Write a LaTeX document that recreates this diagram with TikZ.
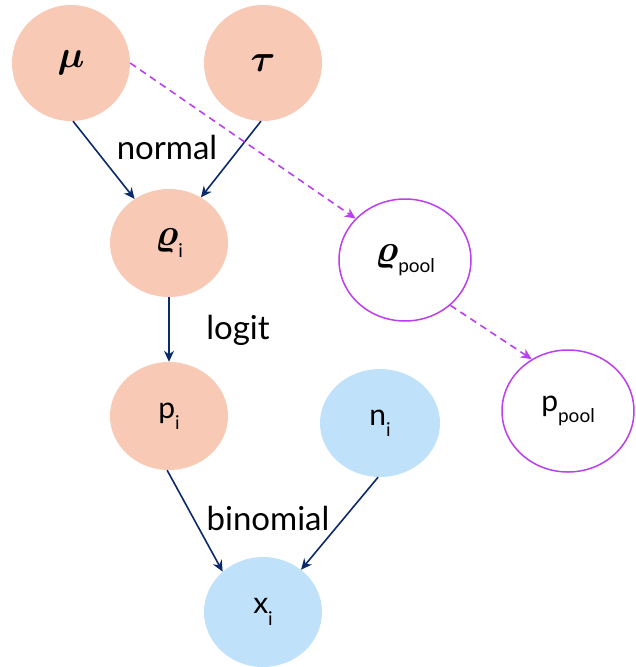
\RequirePackage{fix-cm}
\documentclass[tikz,border=0pt]{standalone}
\usepackage{bm}
\usepackage{fontspec}
\setmainfont{Lato}
\usetikzlibrary{shapes.geometric,arrows.meta}
\definecolor{salmon}{HTML}{F8CAB5}
\definecolor{skyb}{HTML}{BFE2FA}
\definecolor{purp}{HTML}{BC3FEE}
\definecolor{navy}{HTML}{0B2A6B}
\newcommand{\mysub}[1]{\raisebox{-0.75ex}{\fontsize{19}{20}\selectfont #1}}
\newcommand{\gr}[1]{{\fontsize{38}{40}\selectfont$\bm{#1}$}}
\tikzset{
  var/.style={ellipse, inner sep=0pt, minimum width=#1, font=\fontsize{30}{32}\selectfont},
  obs/.style={var=118pt, minimum height=108pt, fill=salmon, draw=none},
  dat/.style={var=120pt, minimum height=108pt, fill=skyb, draw=none},
  pool/.style={var=132pt, minimum height=122pt, draw=purp, line width=1.5pt, fill=white},
  arr/.style={draw=navy, line width=1.6pt, -{Stealth[length=11pt,width=10pt]}},
  darr/.style={draw=purp, line width=1.6pt, dash pattern=on 7pt off 5pt, -{Stealth[length=11pt,width=10pt]}},
  lbl/.style={font=\fontsize{33}{35}\selectfont, inner sep=0pt}
}
\begin{document}
\begin{tikzpicture}[x=1pt,y=-1pt]
\useasboundingbox (0,0) rectangle (635,667);
\node[obs, minimum height=116pt] (mu) at (71,63) {\gr{\mu}};
\node[obs, minimum height=116pt] (tau) at (263,63) {\gr{\tau}};
\node[obs] (rhoi) at (169,243) {\gr{\varrho}\mysub{i}};
\node[pool] (rhop) at (405,260) {\gr{\varrho}\mysub{pool}};
\node[obs] (pi) at (169,416) {p\mysub{i}};
\node[dat] (ni) at (380,423) {n\mysub{i}};
\node[pool, minimum width=132pt] (pp) at (568,411) {p\mysub{pool}};
\node[dat, minimum width=118pt, minimum height=110pt] (xi) at (263,612) {x\mysub{i}};
\draw[arr] (mu.272) -- (rhoi.128);
\draw[arr] (tau.268) -- (rhoi.55);
\draw[arr] (rhoi.south) -- (pi.north);
\draw[arr] (pi.268) -- (xi.135);
\draw[arr] (ni.268) -- (xi.48);
\draw[darr] (mu.east) -- (rhop.140);
\draw[darr] (rhop.-45) -- (pp.125);
\node[lbl] (l1) at (167,147) {normal};
\node[lbl] (l2) at (238,330) {logit};
\node[lbl] (l3) at (268,518) {binomial};
\end{tikzpicture}
\end{document}
